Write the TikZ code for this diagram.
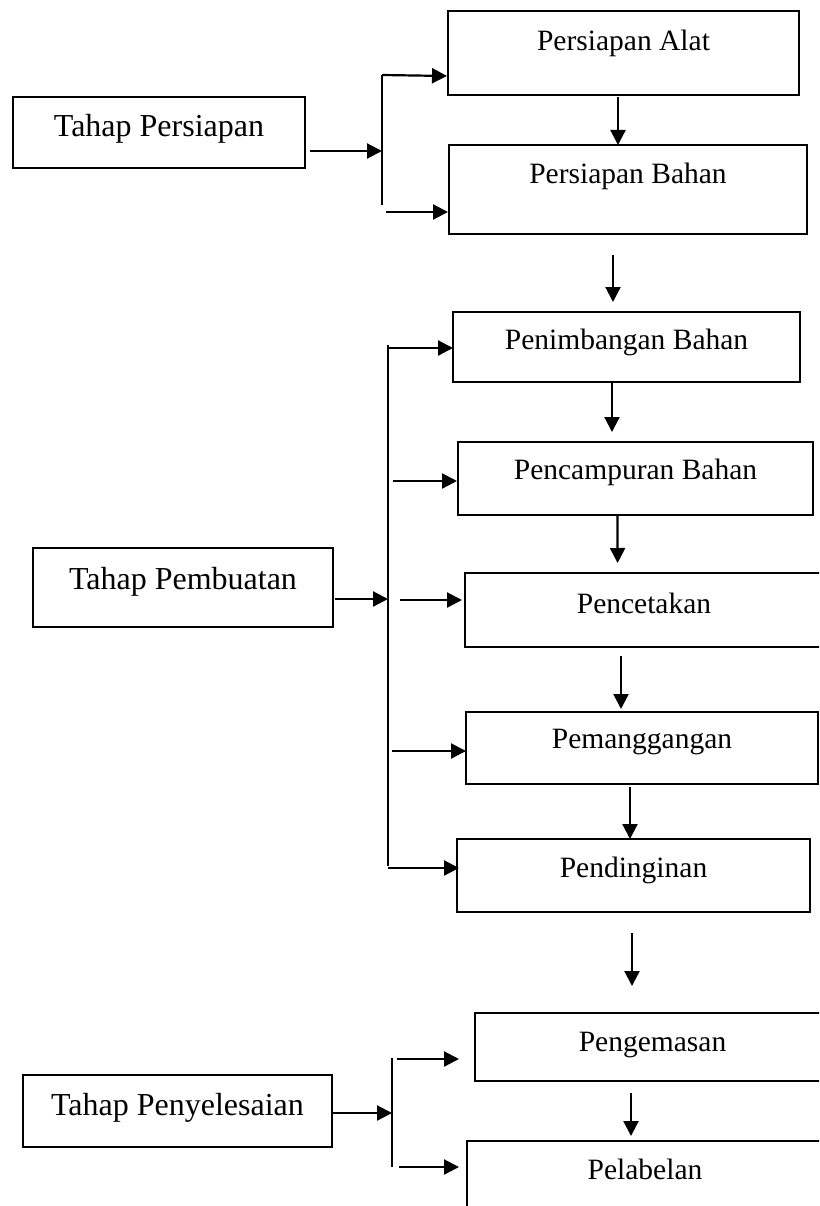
\documentclass[tikz,border=0pt]{standalone}
\usepackage{fontspec}
\setmainfont{Liberation Serif}
\usetikzlibrary{arrows.meta}
\tikzset{
  box/.style={draw, line width=1.4pt, rectangle, inner sep=0pt, outer sep=0pt, anchor=north west,
    font=\fontsize{29.5}{34}\selectfont, text height=19.5pt, text depth=6.4pt},
  tahap/.style={box, line width=2pt, font=\fontsize{32}{38}\selectfont, text height=21.2pt, text depth=6.9pt},
  arr/.style={line width=2.2pt, -{Triangle[length=15pt,width=15pt]}},
  vline/.style={line width=1.3pt},
}
\begin{document}
\begin{tikzpicture}[x=1pt,y=-1pt]
\useasboundingbox (0,0) rectangle (819,1206);
\clip (0,0) rectangle (819,1206);

% boxes
\node[tahap, minimum width=292pt, minimum height=71pt] (TP1) at (13,97) {\raisebox{3.5pt}{Tahap Persiapan}};
\node[box, minimum width=351pt, minimum height=84pt] (A1) at (448,11) {\raisebox{9pt}{Persiapan Alat}};
\node[box, minimum width=358pt, minimum height=89pt] (A2) at (449,145) {\raisebox{12.5pt}{Persiapan Bahan}};

\node[tahap, minimum width=300pt, minimum height=79pt] (TP2) at (33,548) {\raisebox{5.5pt}{Tahap Pembuatan}};
\node[box, minimum width=347pt, minimum height=70pt] (B1) at (453,312) {\raisebox{4pt}{Penimbangan Bahan}};
\node[box, minimum width=355pt, minimum height=73pt] (B2) at (458,442) {\raisebox{5.5pt}{Pencampuran Bahan}};
\node[box, minimum width=358pt, minimum height=74pt] (B3) at (465,573) {\raisebox{3pt}{Pencetakan}};
\node[box, minimum width=352pt, minimum height=72pt] (B4) at (466,712) {\raisebox{6pt}{Pemanggangan}};
\node[box, minimum width=353pt, minimum height=73pt] (B5) at (457,839) {\raisebox{4.5pt}{Pendinginan}};

\node[tahap, minimum width=309pt, minimum height=72pt] (TP3) at (23,1075) {\raisebox{2.5pt}{Tahap Penyelesaian}};
\node[box, minimum width=355pt, minimum height=68pt] (C1) at (475,1013) {\raisebox{2.5pt}{Pengemasan}};
\node[box, minimum width=356pt, minimum height=72pt] (C2) at (467,1141) {\raisebox{4pt}{Pelabelan}};

% vertical flow arrows
\draw[arr] ([xshift=-5.5pt,yshift=-2pt]A1.south) -- ([xshift=-10pt]A2.north);
\draw[arr] ([xshift=-15pt,yshift=-21pt]A2.south) -- ([xshift=-13.5pt,yshift=10pt]B1.north);
\draw[arr] ([xshift=-14.5pt]B1.south) -- ([xshift=-23.5pt,yshift=10pt]B2.north);
\draw[arr] ([xshift=-18pt]B2.south) -- ([xshift=-26.4pt,yshift=10pt]B3.north);
\draw[arr] ([xshift=-23pt,yshift=-9pt]B3.south) -- ([xshift=-21pt,yshift=3pt]B4.north);
\draw[arr] ([xshift=-12pt,yshift=-3pt]B4.south) -- ([xshift=-3.5pt]B5.north);
\draw[arr] ([xshift=-1.5pt,yshift=-21pt]B5.south) -- ([xshift=-20.5pt,yshift=27pt]C1.north);
\draw[arr] ([xshift=-21.5pt,yshift=-12pt]C1.south) -- ([xshift=-14pt,yshift=5pt]C2.north);

% bracket 1: Tahap Persiapan
\coordinate (p1top) at (382,75);
\coordinate (p1bot) at (382,205);
\coordinate (p1in) at (382,151);
\coordinate (p1b) at (386,212);
\draw[vline] (p1top) -- (p1bot);
\draw[arr] ([xshift=5pt,yshift=-18.5pt]TP1.east) -- (p1in);
\draw[arr] (p1top) -- ([xshift=-1pt,yshift=-23pt]A1.west);
\draw[arr] (p1b) -- ([xshift=-1pt,yshift=-22.5pt]A2.west);

% bracket 2: Tahap Pembuatan
\coordinate (p2top) at (388,345);
\coordinate (p2bot) at (388,866);
\coordinate (p2in) at (388,599);
\coordinate (p2a) at (388,348);
\coordinate (p2b) at (393,481);
\coordinate (p2c) at (400,600);
\coordinate (p2d) at (392,751);
\coordinate (p2e) at (388,868);
\draw[vline] (p2top) -- (p2bot);
\draw[arr] ([xshift=2pt,yshift=-11.5pt]TP2.east) -- (p2in);
\draw[arr] (p2a) -- ([yshift=-1pt]B1.west);
\draw[arr] (p2b) -- ([xshift=-1pt,yshift=-2.5pt]B2.west);
\draw[arr] (p2c) -- ([xshift=-3pt,yshift=10pt]B3.west);
\draw[arr] (p2d) -- ([yshift=-3pt]B4.west);
\draw[arr] (p2e) -- ([xshift=2pt,yshift=7.5pt]B5.west);

% bracket 3: Tahap Penyelesaian
\coordinate (p3top) at (392,1058);
\coordinate (p3bot) at (392,1167);
\coordinate (p3in) at (392,1113);
\coordinate (p3a) at (397,1059);
\coordinate (p3b) at (399,1167);
\draw[vline] (p3top) -- (p3bot);
\draw[arr] ([yshift=-2pt]TP3.east) -- (p3in);
\draw[arr] (p3a) -- ([xshift=-16pt,yshift=-12pt]C1.west);
\draw[arr] (p3b) -- ([xshift=-8pt,yshift=10pt]C2.west);
\end{tikzpicture}
\end{document}
